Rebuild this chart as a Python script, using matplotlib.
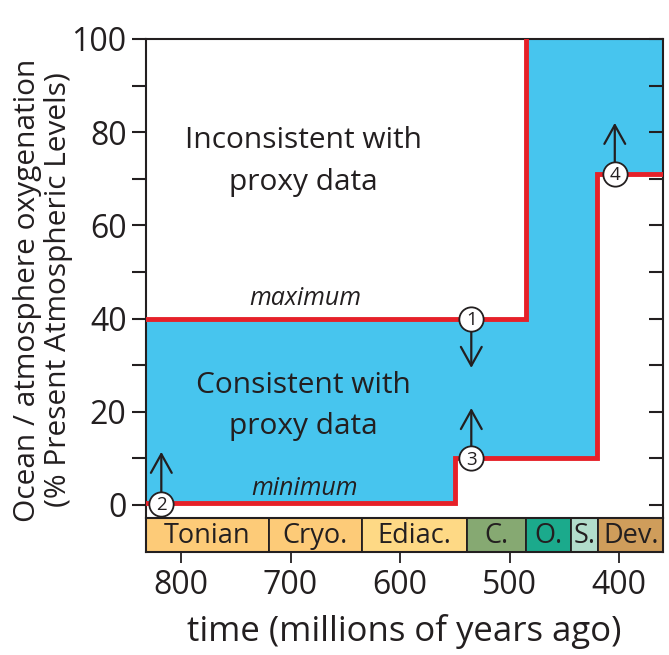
import numpy as np
import matplotlib
matplotlib.use("Agg")
import matplotlib.pyplot as plt
from matplotlib.patches import Rectangle

plt.rcParams['font.family'] = ['Open Sans', 'DejaVu Sans']

ink = '#231F20'
ocean_blue = '#47C5EE'
limit_red = '#E62129'

# time limits of the panel (Ma)
t_old, t_young = 832, 360

# upper bound on oxygenation: step edges (Ma) and levels (% PAL)
max_edges = [832, 485, 360]
max_levels = [40, 100]

# lower bound on oxygenation
min_edges = [832, 550, 420, 360]
min_levels = [0.5, 10, 71]

# numbered constraints: (label, age, level, arrow tip level)
constraints = [
    ('1', 535, 40, 29.4),
    ('2', 818, 0.3, 11.4),
    ('3', 535, 10, 20.8),
    ('4', 404, 71, 82),
]

# geologic periods shown under the axis
periods = ['Tonian', 'Cryo.', 'Ediac.', 'C.', 'O.', 'S.', 'Dev.']
period_start = [1000, 720, 635, 539, 485, 444, 419]
period_end = [720, 635, 539, 485, 444, 419, 359]
period_colors = ['#FDCB78', '#FDCB78', '#FED985', '#86A972', '#1BAA8C', '#B2DDCB', '#CF9D5B']


def staircase(edges, levels):
    xs, ys = [], []
    for i, lev in enumerate(levels):
        xs += [edges[i], edges[i + 1]]
        ys += [lev, lev]
    return np.array(xs), np.array(ys)


fig = plt.figure(figsize=(6.69, 6.55), dpi=100)
ax = fig.add_axes([0.2182, 0.2092, 0.7728, 0.7313])
bar = fig.add_axes([0.2182, 0.1573, 0.7728, 0.0519])

xu, yu = staircase(max_edges, max_levels)
xl, yl = staircase(min_edges, min_levels)
ax.fill(np.concatenate([xu, xl[::-1]]), np.concatenate([yu, yl[::-1]]),
        color=ocean_blue, lw=0, zorder=1)
ax.plot(xu[:-1], yu[:-1], color=limit_red, lw=3.5, solid_joinstyle='miter', zorder=3)
ax.plot(xl, yl, color=limit_red, lw=3.5, solid_joinstyle='miter', zorder=3)

for lab, age, lev, tip in constraints:
    ax.annotate('', xy=(age, tip), xytext=(age, lev),
                arrowprops=dict(arrowstyle='->,head_length=1.35,head_width=0.75',
                                color=ink, lw=1.6, shrinkA=8, shrinkB=0),
                zorder=4)
    ax.plot(age, lev, 'o', ms=17.5, mfc='white', mec=ink, mew=1.3, zorder=5,
            clip_on=False)
    ax.text(age, lev - 0.3, lab, ha='center', va='center', fontsize=13.5,
            color=ink, zorder=6)

ax.text(688, 73.7, 'Inconsistent with\nproxy data', ha='center', va='center',
        fontsize=21.5, color=ink, linespacing=1.55)
ax.text(688, 21.2, 'Consistent with\nproxy data', ha='center', va='center',
        fontsize=21.5, color=ink, linespacing=1.55)
ax.text(687, 44.3, 'maximum', ha='center', va='center', fontsize=18,
        style='italic', color=ink)
ax.text(687, 3.6, 'minimum', ha='center', va='center', fontsize=18,
        style='italic', color=ink)

ax.set_xlim(t_old, t_young)
ax.set_ylim(-2.8, 100)
ax.set_yticks(np.arange(0, 101, 20))
ax.set_yticks(np.arange(10, 100, 20), minor=True)
ax.tick_params(axis='y', which='both', direction='out', length=10, width=1.5,
               colors=ink, labelsize=23, pad=4)
ax.set_xticks([])
ax.spines['bottom'].set_visible(False)
for s in ['left', 'top', 'right']:
    ax.spines[s].set_linewidth(1.5)
    ax.spines[s].set_color(ink)
fig.text(43 / 669, 1 - 290 / 655,
         'Ocean / atmosphere oxygenation\n(% Present Atmospheric Levels)',
         rotation=90, ha='center', va='center', fontsize=21.5, color=ink,
         linespacing=1.05)

right = ax.twinx()
right.set_ylim(ax.get_ylim())
right.set_yticks(np.arange(0, 101, 10))
right.tick_params(axis='y', direction='in', length=10, width=1.5, colors=ink,
                  labelright=False)
for s in right.spines.values():
    s.set_visible(False)

for name, a, b, c in zip(periods, period_start, period_end, period_colors):
    bar.add_patch(Rectangle((a, 0), b - a, 1, facecolor=c, edgecolor=ink, lw=1.3))
    mid = (min(a, t_old) + max(b, t_young)) / 2
    bar.text(mid, 0.47, name, ha='center', va='center', fontsize=19.5, color=ink)
bar.set_xlim(t_old, t_young)
bar.set_ylim(0, 1)
bar.set_yticks([])
bar.set_xticks([800, 700, 600, 500, 400])
bar.tick_params(axis='x', direction='out', length=8, width=1.3, colors=ink,
                labelsize=23, pad=4)
for s in bar.spines.values():
    s.set_linewidth(1.5)
    s.set_color(ink)
bar.set_xlabel('time (millions of years ago)', fontsize=25, color=ink, labelpad=9)

fig.savefig('out.png', dpi=100)
